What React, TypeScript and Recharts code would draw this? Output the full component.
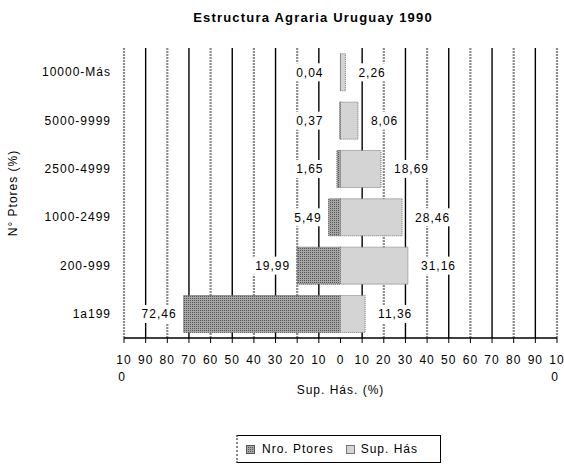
import { BarChart, Bar, XAxis, YAxis, CartesianGrid, Legend, LabelList } from "recharts"

const CATEGORIES = ["10000-Más", "5000-9999", "2500-4999", "1000-2499", "200-999", "1a199"]
const NRO_PTORES = [0.04, 0.37, 1.65, 5.49, 19.99, 72.46]
const SUP_HAS = [2.26, 8.06, 18.69, 28.46, 31.16, 11.36]
const TICKS = [-100, -90, -80, -70, -60, -50, -40, -30, -20, -10, 0, 10, 20, 30, 40, 50, 60, 70, 80, 90, 100]

const data = CATEGORIES.map((cat, i) => ({ cat, nro: -NRO_PTORES[i], sup: SUP_HAS[i] }))

const FONT = "'Liberation Sans', Arial, sans-serif"

const fmt = (v: number) => Math.abs(v).toFixed(2).replace(".", ",")

// alternate black / dotted grey lines like the original
const gridLine = (p: any) => {
    const dark = p.index % 2 === 1
    if (p.index === 10) return <g key={p.key} />
    return (
        <line
            key={p.key}
            x1={p.x1}
            x2={p.x2}
            y1={p.y1}
            y2={p.y2}
            stroke={dark ? "#000" : "#8c8c8c"}
            strokeWidth={dark ? 1.4 : 2.2}
            strokeDasharray={dark ? undefined : "2 1"}
        />
    )
}

const XTick = (p: any) => {
    const v = Math.abs(p.payload.value)
    const txt = String(v)
    if (v === 100) {
        return (
            <text x={p.x} y={p.y} textAnchor="middle" fontSize={12} fill="#000">
                <tspan x={p.x} dy="0.71em">10</tspan>
                <tspan x={p.x - 2} dy={17}>0</tspan>
            </text>
        )
    }
    return (
        <text x={p.x} y={p.y} textAnchor="middle" fontSize={12} fill="#000">
            <tspan x={p.x} dy="0.71em">{txt}</tspan>
        </text>
    )
}

const YTitle = (p: any) => {
    const vb = p.viewBox || {}
    const cx = 13
    const cy = (vb.y ?? 48) + (vb.height ?? 290) / 2
    return (
        <text x={cx} y={cy} transform={`rotate(-90 ${cx} ${cy})`} textAnchor="middle" dy="0.36em" fontSize={12} fill="#000">
            N° Ptores (%)
        </text>
    )
}

const LeftLabel = (p: any) => {
    const left = Math.min(p.x, p.x + p.width)
    const zero = Math.max(p.x, p.x + p.width)
    const end = Math.min(left, zero - 10) - 7
    const cy = p.y + p.height / 2
    const txt = fmt(p.value)
    const w = txt.length * 7.3 + 4
    return (
        <g>
            <rect x={end - w + 1} y={cy - 9} width={w + 2} height={18} fill="#fff" />
            <text x={end} y={cy} dy="0.36em" textAnchor="end" fontSize={12} fill="#000">{txt}</text>
        </g>
    )
}

const RightLabel = (p: any) => {
    const right = Math.max(p.x, p.x + p.width)
    const start = right + 13
    const cy = p.y + p.height / 2
    const txt = fmt(p.value)
    const w = txt.length * 7.3 + 4
    return (
        <g>
            <rect x={start - 3} y={cy - 9} width={w + 2} height={18} fill="#fff" />
            <text x={start} y={cy} dy="0.36em" textAnchor="start" fontSize={12} fill="#000">{txt}</text>
        </g>
    )
}

const LegendBox = () => (
    <div style={{ paddingTop: 37 }}>
        <div
            style={{
                marginLeft: 236,
                width: 205,
                height: 28,
                boxSizing: "border-box",
                border: "1px solid #000",
                borderLeft: "2px dotted #888",
                display: "flex",
                alignItems: "center",
                fontSize: 12,
                color: "#000",
                paddingLeft: 8,
            }}
        >
            <svg width={9} height={9} style={{ marginRight: 7 }}>
                <rect x={0.5} y={0.5} width={8} height={8} fill="url(#nroDots)" stroke="#555" />
            </svg>
            <span>Nro. Ptores</span>
            <svg width={9} height={9} style={{ marginLeft: 12, marginRight: 6 }}>
                <rect x={0.5} y={0.5} width={8} height={8} fill="#d4d4d4" stroke="#777" />
            </svg>
            <span>Sup. Hás</span>
        </div>
    </div>
)

export default function App() {
    return (
        <div style={{ position: "absolute", left: 0, top: 0, width: 564, height: 465, background: "#fff", fontFamily: FONT, letterSpacing: "1px" }}>
            <div
                style={{
                    position: "absolute",
                    left: 313,
                    top: 10,
                    transform: "translateX(-50%)",
                    whiteSpace: "nowrap",
                    fontSize: 13,
                    fontWeight: "bold",
                    letterSpacing: "1.2px",
                    color: "#000",
                }}
            >
                Estructura Agraria Uruguay 1990
            </div>
            <BarChart
                width={564}
                height={465}
                data={data}
                layout="vertical"
                stackOffset="sign"
                barCategoryGap="12%"
                margin={{ top: 48, right: 7, bottom: 2, left: 0 }}
            >
                <defs>
                    <pattern id="nroDots" width={2} height={2} patternUnits="userSpaceOnUse">
                        <rect width={2} height={2} fill="#a6a6a6" />
                        <rect width={1} height={1} fill="#555" />
                    </pattern>
                </defs>
                <CartesianGrid horizontal={false} vertical={gridLine} />
                <XAxis
                    type="number"
                    domain={[-100, 100]}
                    ticks={TICKS}
                    interval={0}
                    height={60}
                    tickSize={5}
                    tickMargin={12}
                    tick={<XTick />}
                    axisLine={{ stroke: "#000", strokeWidth: 1.5 }}
                    tickLine={{ stroke: "#000" }}
                    label={{ value: "Sup. Hás. (%)", position: "insideBottom", offset: 4, fontSize: 12, fill: "#000" }}
                />
                <XAxis
                    xAxisId="top"
                    orientation="top"
                    type="number"
                    domain={[-100, 100]}
                    height={0}
                    tick={false}
                    tickLine={false}
                    axisLine={{ stroke: "#000", strokeWidth: 1.5 }}
                />
                <YAxis
                    type="category"
                    dataKey="cat"
                    width={124}
                    tickLine={false}
                    axisLine={false}
                    tickSize={0}
                    tickMargin={13}
                    tick={{ fontSize: 12, fill: "#000" }}
                    label={<YTitle />}
                />
                <Legend verticalAlign="bottom" content={<LegendBox />} />
                <Bar dataKey="nro" name="Nro. Ptores" stackId="a" fill="url(#nroDots)" stroke="#555" strokeDasharray="1 1" isAnimationActive={false}>
                    <LabelList dataKey="nro" content={<LeftLabel />} />
                </Bar>
                <Bar dataKey="sup" name="Sup. Hás" stackId="a" fill="#d4d4d4" stroke="#777" strokeDasharray="1 1" isAnimationActive={false}>
                    <LabelList dataKey="sup" content={<RightLabel />} />
                </Bar>
            </BarChart>
        </div>
    )
}
